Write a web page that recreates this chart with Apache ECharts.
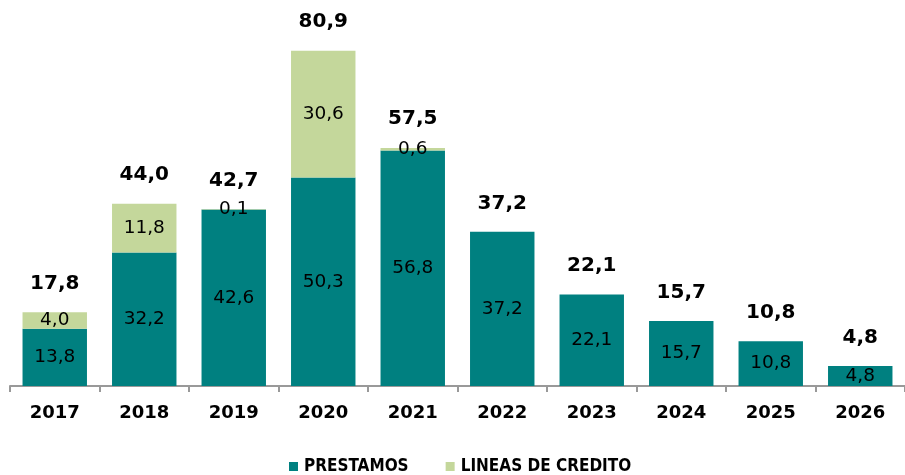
<!DOCTYPE html>
<html>
<head>
<meta charset="utf-8">
<script src="https://cdn.jsdelivr.net/npm/echarts@6/dist/echarts.min.js"></script>
<style>html,body{margin:0;padding:0;background:#fff}#c{width:905px;height:475px}</style>
</head>
<body>
<div id="c"></div>
<script>
const categories = ['2017','2018','2019','2020','2021','2022','2023','2024','2025','2026'];
const prestamos = [13.8, 32.2, 42.6, 50.3, 56.8, 37.2, 22.1, 15.7, 10.8, 4.8];
const lineasCredito = [4.0, 11.8, 0.1, 30.6, 0.6, null, null, null, null, null];
const totals = [17.8, 44.0, 42.7, 80.9, 57.5, 37.2, 22.1, 15.7, 10.8, 4.8];

const fmt = v => (v == null ? '' : Number(v).toFixed(1).replace('.', ','));
const numFont = 'DejaVu Sans';

const chart = echarts.init(document.getElementById('c'), null, {renderer: 'canvas'});
chart.setOption({
  animation: false,
  backgroundColor: '#ffffff',
  grid: {left: 10, right: -8, top: 13, bottom: 89, containLabel: false},
  legend: {
    data: ['PRESTAMOS', 'LINEAS DE CREDITO'],
    left: 284, top: 453,
    itemWidth: 9, itemHeight: 9, itemGap: 37,
    icon: 'rect',
    textStyle: {fontFamily: 'DejaVu Sans Condensed', fontWeight: 'bold', fontSize: 17, color: '#000', padding: [0, 0, 0, 1]}
  },
  xAxis: {
    type: 'category',
    data: categories,
    axisLine: {lineStyle: {color: '#999', width: 2}},
    axisTick: {show: true, length: 6, lineStyle: {color: '#999', width: 2}},
    axisLabel: {fontFamily: numFont, fontWeight: 'bold', fontSize: 18, color: '#000', margin: 18}
  },
  yAxis: {
    type: 'value', min: 0, max: 90,
    show: false,
    splitLine: {show: false}
  },
  series: [
    {
      name: 'PRESTAMOS', type: 'bar', stack: 'a', barWidth: '72%',
      data: prestamos,
      itemStyle: {color: '#008080'},
      label: {show: true, position: 'inside', formatter: p => fmt(p.value),
        fontFamily: numFont, fontSize: 18.5, color: '#000'}
    },
    {
      name: 'LINEAS DE CREDITO', type: 'bar', stack: 'a', barWidth: '72%',
      data: lineasCredito,
      itemStyle: {color: '#c4d79b'},
      label: {show: true, position: 'inside', formatter: p => fmt(p.value),
        fontFamily: numFont, fontSize: 18.5, color: '#000'}
    },
    {
      name: 'TOTAL', type: 'scatter',
      data: totals,
      symbolSize: 1,
      itemStyle: {color: 'rgba(0,0,0,0)', opacity: 1},
      silent: true,
      label: {show: true, position: 'top', distance: 18, formatter: p => fmt(p.value),
        fontFamily: numFont, fontWeight: 'bold', fontSize: 20, color: '#000', opacity: 1}
    }
  ]
});
</script>
</body>
</html>
